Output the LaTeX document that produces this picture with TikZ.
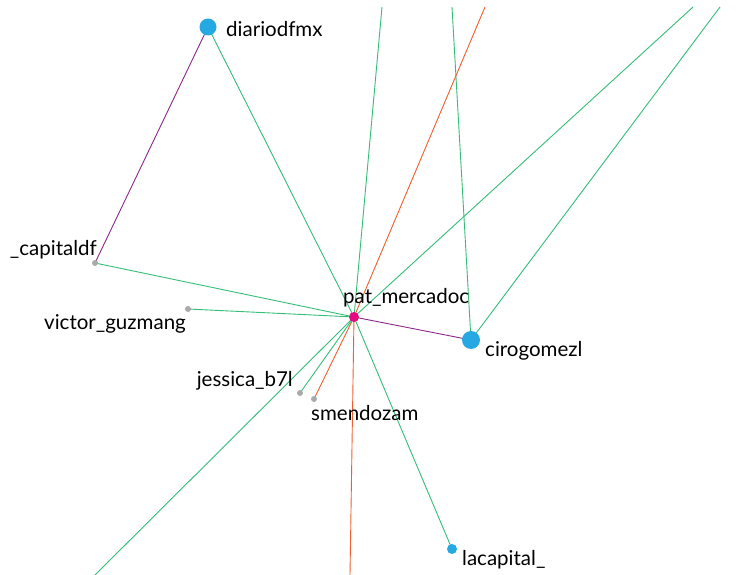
\documentclass[tikz,border=0pt]{standalone}
\usepackage{fontspec}
\setmainfont{Lato}
\usetikzlibrary{backgrounds}
\definecolor{edgegreen}{RGB}{52,190,120}
\definecolor{edgeorange}{RGB}{240,95,45}
\definecolor{edgepurple}{RGB}{140,40,140}
\definecolor{nodeblue}{RGB}{38,168,226}
\definecolor{nodegray}{RGB}{170,170,170}
\definecolor{nodepink}{RGB}{230,10,130}
\tikzset{
  vert/.style={circle, inner sep=0pt, minimum size=#1},
  hub/.style={vert=10pt, fill=nodepink},
  bignode/.style={vert=#1, fill=nodeblue},
  leaf/.style={vert=6pt, fill=nodegray},
  lbl/.style={font=\fontsize{20.5}{20.5}\selectfont, text=black, inner sep=0pt},
  gline/.style={draw=edgegreen, line width=0.9pt},
  oline/.style={draw=edgeorange, line width=0.9pt},
  pline/.style={draw=edgepurple, line width=0.9pt},
}
\begin{document}
\begin{tikzpicture}[x=1pt, y=-1pt]
\useasboundingbox (0,0) rectangle (748,575);

% vertices
\node[hub] (pat) at (354,317) {};
\node[bignode=17pt] (diario) at (208,27) {};
\node[bignode=18pt] (ciro) at (471,340) {};
\node[bignode=10pt] (lacap) at (452,549) {};
\node[leaf] (capdf) at (95,263) {};
\node[leaf] (victor) at (188,309) {};
\node[leaf] (jessica) at (300,393) {};
\node[leaf] (smendo) at (314,399) {};

% neighbours outside the frame
\coordinate (outA) at (382,7);
\coordinate (outB) at (452,7);
\coordinate (outC) at (485,7);
\coordinate (outD) at (693,7);
\coordinate (outE) at (720,7);
\coordinate (outF) at (95,575);
\coordinate (outG) at (350,575);

% labels
\node[lbl, anchor=base west] (tpat) at (343,303) {pat\_mercadoc};
\node[lbl, anchor=base west] (tdiario) at (226,37) {diariodfmx};
\node[lbl, anchor=base west] (tciro) at (485,356) {cirogomezl};
\node[lbl, anchor=base west] (tlacap) at (462,565) {lacapital\_};
\node[lbl, anchor=base east] (tcapdf) at (97,255) {\_capitaldf};
\node[lbl, anchor=base east] (tvictor) at (186,330) {victor\_guzmang};
\node[lbl, anchor=base east] (tjessica) at (293,386) {jessica\_b7l};
\node[lbl, anchor=base west] (tsmendo) at (311,420) {smendozam};

% connectors, drawn beneath the vertices
\begin{scope}[on background layer]
  \fill[white] (0,0) rectangle (748,575);
  \draw[gline] (pat.center) -- (outA);
  \draw[gline] (ciro.center) -- (outB);
  \draw[oline] (pat.center) -- (outC);
  \draw[gline] (pat.center) -- (outD);
  \draw[gline] (ciro.center) -- (outE);
  \draw[gline] (pat.center) -- (outF);
  \draw[oline] (pat.center) -- (outG);
  \draw[gline] (pat.center) -- (diario.center);
  \draw[pline] (diario.center) -- (capdf.center);
  \draw[gline] (capdf.center) -- (pat.center);
  \draw[gline] (victor.center) -- (pat.center);
  \draw[gline] (jessica.center) -- (pat.center);
  \draw[oline] (smendo.center) -- (pat.center);
  \draw[gline] (pat.center) -- (lacap.center);
  \draw[pline] (pat.center) -- (ciro.center);
\end{scope}
\end{tikzpicture}
\end{document}
